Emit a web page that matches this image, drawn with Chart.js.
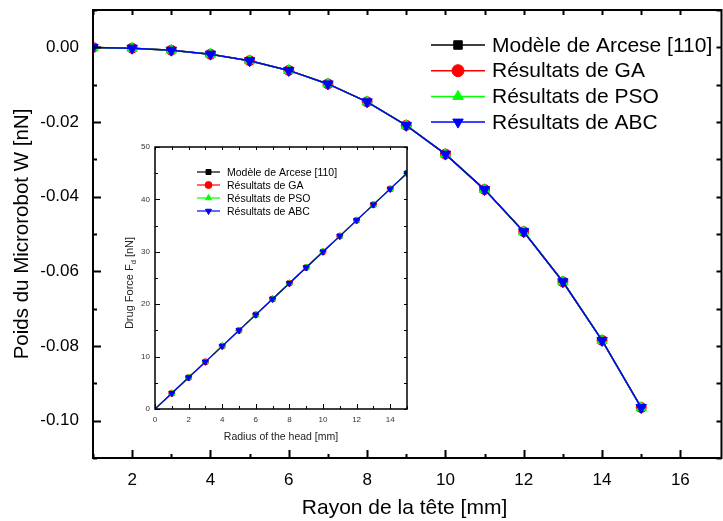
<!DOCTYPE html>
<html>
<head>
<meta charset="utf-8">
<script src="https://cdn.jsdelivr.net/npm/chart.js@4.4.1/dist/chart.umd.min.js"></script>
<style>
  html, body { margin: 0; padding: 0; background: #fff; }
  #wrap { position: relative; width: 723px; height: 521px; overflow: hidden; }
  #mainChart { position: absolute; left: 0; top: 0; }
  #insetBox { position: absolute; left: 112px; top: 140px; width: 300px; height: 305px; background: #fff; }
</style>
</head>
<body>
<div id="wrap">
  <canvas id="mainChart" width="723" height="521"></canvas>
  <div id="insetBox"><canvas id="insetChart" width="300" height="305"></canvas></div>
</div>
<script>
// ── Data ──────────────────────────────────────────────────────
const SERIES_NAMES = ['Modèle de Arcese [110]', 'Résultats de GA', 'Résultats de PSO', 'Résultats de ABC'];

// main plot: microrobot weight vs head radius
const RADIUS    = [1, 2, 3, 4, 5, 6, 7, 8, 9, 10, 11, 12, 13, 14, 15];
const W_ARCESE  = [-0.00003, -0.00023, -0.00077, -0.00183, -0.00358, -0.00618, -0.0098, -0.0146, -0.0209, -0.0286, -0.0381, -0.0494, -0.0628, -0.0785, -0.0965];
const W_GA      = [-0.00003, -0.00023, -0.00077, -0.00183, -0.00358, -0.00618, -0.0098, -0.0146, -0.0209, -0.0286, -0.0381, -0.0494, -0.0628, -0.0785, -0.0965];
const W_PSO     = [-0.00003, -0.00023, -0.00077, -0.00183, -0.00358, -0.00618, -0.0098, -0.0146, -0.0209, -0.0286, -0.0381, -0.0494, -0.0628, -0.0785, -0.0965];
const W_ABC     = [-0.00003, -0.00023, -0.00077, -0.00183, -0.00358, -0.00618, -0.0098, -0.0146, -0.0209, -0.0286, -0.0381, -0.0494, -0.0628, -0.0785, -0.0965];
const X_TICKS   = [2, 4, 6, 8, 10, 12, 14, 16];
const Y_TICKS   = [0, -0.02, -0.04, -0.06, -0.08, -0.10];

// inset: drag force vs head radius
const HEAD_RADIUS = [0, 1, 2, 3, 4, 5, 6, 7, 8, 9, 10, 11, 12, 13, 14, 15];
const FD_ARCESE   = [0, 3, 6, 9, 12, 15, 18, 21, 24, 27, 30, 33, 36, 39, 42, 45];
const FD_GA       = [0, 3, 6, 9, 12, 15, 18, 21, 24, 27, 30, 33, 36, 39, 42, 45];
const FD_PSO      = [0, 3, 6, 9, 12, 15, 18, 21, 24, 27, 30, 33, 36, 39, 42, 45];
const FD_ABC      = [0, 3, 6, 9, 12, 15, 18, 21, 24, 27, 30, 33, 36, 39, 42, 45];
const INSET_X_TICKS = [0, 2, 4, 6, 8, 10, 12, 14];
const INSET_Y_TICKS = [0, 10, 20, 30, 40, 50];

// inset y title, with subscript on F
const INSET_Y_TITLE = [
  { text: 'Drug Force F', size: 11, shift: 0 },
  { text: 'd', size: 7.5, shift: 2.5 },
  { text: ' [nN]', size: 11, shift: 0 },
];

// ── Styling ───────────────────────────────────────────────────
const FONT = "'Liberation Sans', Arial, sans-serif";
Chart.defaults.font.family = FONT;
Chart.defaults.color = '#000';

const COLORS   = ['#000000', '#ff0000', '#00ff00', '#0000ff'];
const MARKERS  = ['rect', 'circle', 'triangle', 'triangle'];
const ROTATION = [0, 0, 0, 180];

function makeSets(xs, series, sizes, lineW, firstHidden) {
  return series.map((ys, i) => ({
    label: SERIES_NAMES[i],
    data: xs.map((x, k) => ({ x, y: ys[k] })),
    borderColor: COLORS[i],
    backgroundColor: COLORS[i],
    pointBackgroundColor: COLORS[i],
    pointBorderColor: COLORS[i],
    pointBorderWidth: 1,
    pointStyle: MARKERS[i],
    pointRotation: ROTATION[i],
    pointRadius: xs.map((x, k) => (firstHidden && k === 0) ? 0 : sizes[i]),
    borderWidth: lineW,
    order: 3 - i,          // ABC drawn last, on top
    tension: 0,
  }));
}

const isMultiple = (v, step) => Math.abs(v / step - Math.round(v / step)) < 1e-6;
function steps(lo, hi, step) {
  const out = [];
  for (let k = 0; ; k++) {
    const v = +(lo + k * step).toFixed(9);
    if (v > hi + 1e-9) break;
    out.push(v);
  }
  return out;
}

// fixed axis boxes, no extra room for overflowing labels
const fixBox = size => s => {
  if (s.isHorizontal()) s.height = size; else s.width = size;
  s.paddingTop = s.paddingBottom = s.paddingLeft = s.paddingRight = 0;
};

// box frame + inward ticks on all four sides
const frameTicks = {
  id: 'frameTicks',
  afterDraw(chart, args, o) {
    const { ctx, chartArea: a, scales: { x, y } } = chart;
    const right = o.rightValue != null ? x.getPixelForValue(o.rightValue) : a.right;
    ctx.save();
    ctx.strokeStyle = '#000';
    ctx.lineWidth = o.lineWidth;
    ctx.lineCap = 'square';
    ctx.beginPath();
    ctx.rect(a.left, a.top, right - a.left, a.bottom - a.top);
    ctx.stroke();

    ctx.lineWidth = o.tickWidth;
    ctx.lineCap = 'butt';
    ctx.beginPath();
    steps(o.xFrom, o.xTo, o.xStep).forEach(v => {
      const px = Math.round(x.getPixelForValue(v)) + 0.5;
      if (px < a.left - 1 || px > a.right + 1) return;
      const len = isMultiple(v, o.xMajor) ? o.major : o.minor;
      ctx.moveTo(px, a.bottom); ctx.lineTo(px, a.bottom - len);
      ctx.moveTo(px, a.top);    ctx.lineTo(px, a.top + o.far);
    });
    steps(o.yFrom, o.yTo, o.yStep).forEach(v => {
      const py = Math.round(y.getPixelForValue(v)) + 0.5;
      if (py < a.top - 1 || py > a.bottom + 1) return;
      const len = isMultiple(v, o.yMajor) ? o.major : o.minor;
      ctx.moveTo(a.left, py); ctx.lineTo(a.left + len, py);
      ctx.moveTo(right, py);  ctx.lineTo(right - o.far, py);
    });
    ctx.stroke();
    ctx.restore();
  }
};

// legend drawn inside the plot, one row per series
const seriesKey = {
  id: 'seriesKey',
  afterDraw(chart, args, o) {
    const ctx = chart.ctx;
    ctx.save();
    chart.data.datasets.forEach((ds, i) => {
      const y = o.y + i * o.rowGap;
      ctx.strokeStyle = ds.borderColor;
      ctx.lineWidth = o.lineWidth;
      ctx.beginPath();
      ctx.moveTo(o.x, y); ctx.lineTo(o.x + o.lineLen, y);
      ctx.stroke();
      ctx.fillStyle = ds.pointBackgroundColor;
      ctx.lineWidth = 1;
      Chart.helpers.drawPoint(ctx, {
        pointStyle: ds.pointStyle, rotation: ds.pointRotation,
        radius: o.radius, borderWidth: 1,
      }, o.x + o.lineLen / 2, y);
      ctx.fillStyle = '#000';
      ctx.font = o.font;
      ctx.textBaseline = 'middle';
      ctx.fillText(ds.label, o.x + o.lineLen + o.gap, y + 1);
    });
    ctx.restore();
  }
};

// rotated y title for the inset (mixed font sizes)
const insetYTitle = {
  id: 'insetYTitle',
  afterDraw(chart) {
    const { ctx, chartArea: a } = chart;
    ctx.save();
    ctx.fillStyle = '#222';
    ctx.textBaseline = 'alphabetic';
    let width = 0;
    INSET_Y_TITLE.forEach(p => { ctx.font = `${p.size}px ${FONT}`; width += ctx.measureText(p.text).width; });
    ctx.translate(21, (a.top + a.bottom) / 2 + 5);
    ctx.rotate(-Math.PI / 2);
    let cx = -width / 2;
    INSET_Y_TITLE.forEach(p => {
      ctx.font = `${p.size}px ${FONT}`;
      ctx.fillText(p.text, cx, p.shift);
      cx += ctx.measureText(p.text).width;
    });
    ctx.restore();
  }
};

// ── Main chart ────────────────────────────────────────────────
new Chart(document.getElementById('mainChart'), {
  type: 'line',
  data: { datasets: makeSets(RADIUS, [W_ARCESE, W_GA, W_PSO, W_ABC], [5, 5, 6, 6], 1.5, false) },
  options: {
    responsive: false,
    animation: false,
    events: [],
    layout: { padding: { top: 10, right: 0, left: 0, bottom: 0 } },
    plugins: {
      legend: { display: false },
      tooltip: { enabled: false },
      frameTicks: {
        lineWidth: 2, tickWidth: 2, major: 8, minor: 4, far: 5,
        xFrom: 1, xTo: 17, xStep: 1, xMajor: 2,
        yFrom: -0.11, yTo: 0.01, yStep: 0.01, yMajor: 0.02,
        rightValue: 17.05,
      },
      seriesKey: { x: 431, y: 45, rowGap: 25.7, lineLen: 54, gap: 7, radius: 6, lineWidth: 1.5, font: `21px ${FONT}` },
    },
    scales: {
      x: {
        type: 'linear', min: 1, max: 16.91,
        grid: { display: false, drawTicks: false },
        border: { display: false },
        afterBuildTicks: s => { s.ticks = X_TICKS.map(v => ({ value: v })); },
        afterFit: fixBox(63),
        ticks: { font: { size: 17 }, padding: 12, maxRotation: 0 },
        title: { display: true, text: 'Rayon de la tête [mm]', font: { size: 21 }, padding: { top: 0, bottom: 0 } },
      },
      y: {
        type: 'linear', min: -0.11, max: 0.01,
        grid: { display: false, drawTicks: false },
        border: { display: false },
        afterBuildTicks: s => { s.ticks = Y_TICKS.map(v => ({ value: v })); },
        afterFit: fixBox(93),
        ticks: { font: { size: 17 }, padding: 14, callback: v => v.toFixed(2) },
        title: { display: true, text: 'Poids du Microrobot W [nN]', font: { size: 20.5 }, padding: { top: 10, bottom: 0 } },
      },
    },
  },
  plugins: [frameTicks, seriesKey],
});

// ── Inset chart ───────────────────────────────────────────────
new Chart(document.getElementById('insetChart'), {
  type: 'line',
  data: { datasets: makeSets(HEAD_RADIUS, [FD_ARCESE, FD_GA, FD_PSO, FD_ABC], [3, 3, 3.5, 3.5], 1.2, true) },
  options: {
    responsive: false,
    animation: false,
    events: [],
    layout: { padding: { top: 7, right: 4, left: 0, bottom: 0 } },
    plugins: {
      legend: { display: false },
      tooltip: { enabled: false },
      frameTicks: {
        lineWidth: 1.5, tickWidth: 1, major: 5, minor: 3, far: 3,
        xFrom: 0, xTo: 15, xStep: 1, xMajor: 2,
        yFrom: 0, yTo: 50, yStep: 5, yMajor: 10,
      },
      seriesKey: { x: 85, y: 32, rowGap: 13, lineLen: 23, gap: 7, radius: 3.5, lineWidth: 1.2, font: `10.5px ${FONT}` },
    },
    scales: {
      x: {
        type: 'linear', min: 0, max: 15,
        grid: { display: false, drawTicks: false },
        border: { display: false },
        afterBuildTicks: s => { s.ticks = INSET_X_TICKS.map(v => ({ value: v })); },
        afterFit: fixBox(36),
        ticks: { font: { size: 8 }, color: '#333', padding: 6, maxRotation: 0 },
        title: { display: true, text: 'Radius of the head [mm]', font: { size: 10.5 }, color: '#222', padding: { top: 0, bottom: 2 } },
      },
      y: {
        type: 'linear', min: 0, max: 50,
        grid: { display: false, drawTicks: false },
        border: { display: false },
        afterBuildTicks: s => { s.ticks = INSET_Y_TICKS.map(v => ({ value: v })); },
        afterFit: fixBox(43),
        ticks: { font: { size: 8 }, color: '#333', padding: 5 },
      },
    },
  },
  plugins: [frameTicks, seriesKey, insetYTitle],
});
</script>
</body>
</html>
